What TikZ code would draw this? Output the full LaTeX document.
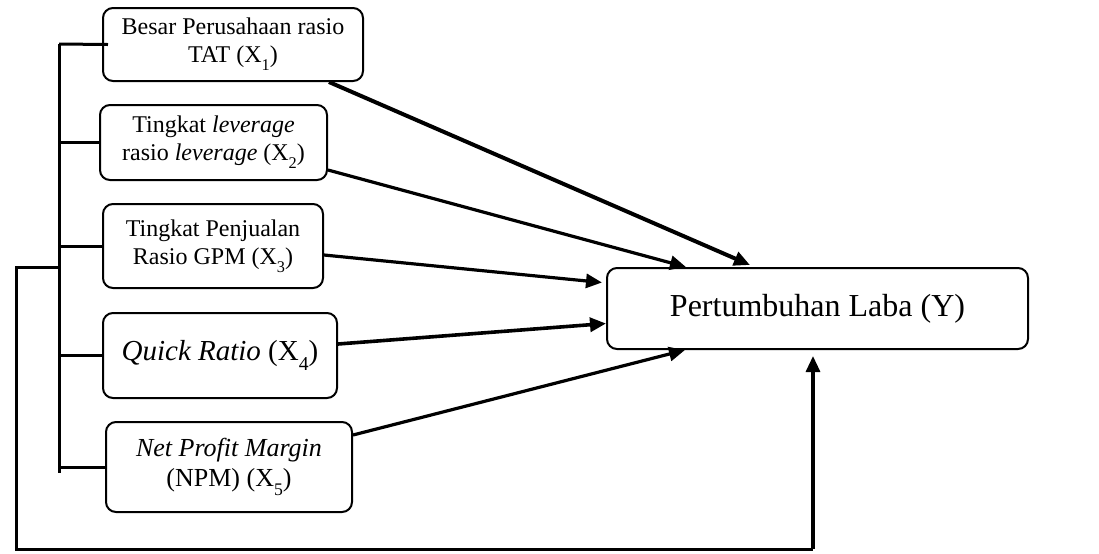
\documentclass[tikz,border=0pt]{standalone}
\usepackage{fontspec}
\setmainfont{Liberation Serif}
\usetikzlibrary{arrows.meta}
\newcommand\lowsub[1]{\raisebox{-0.32em}{\scalebox{0.68}{#1}}}
\begin{document}
\begin{tikzpicture}[x=0.5pt,y=-0.5pt,
  box/.style={draw, line width=1pt, rounded corners=5pt, align=center, inner sep=0pt},
  arr/.style={-{Triangle[length=8pt,width=7pt]}, line width=1.6pt},
  lnk/.style={line width=1.5pt}]
\useasboundingbox (0,0) rectangle (1099,553);
\node[box, minimum width=130pt, minimum height=36.5pt, font=\fontsize{12}{14}\selectfont] (x1) at (233,44.5) {Besar Perusahaan rasio\\TAT (X\lowsub{1})};
\node[box, minimum width=113.5pt, minimum height=37.5pt, font=\fontsize{12}{14}\selectfont] (x2) at (213.5,142.5) {Tingkat \textit{leverage}\\rasio \textit{leverage} (X\lowsub{2})};
\node[box, minimum width=110pt, minimum height=42pt, font=\fontsize{12}{14}\selectfont] (x3) at (213,246) {Tingkat Penjualan\\Rasio GPM (X\lowsub{3})};
\node[box, minimum width=117pt, minimum height=42.5pt, font=\fontsize{14.5}{16}\selectfont] (x4) at (220,355.5) {\textit{Quick Ratio} (X\lowsub{4})};
\node[box, minimum width=123pt, minimum height=45pt, font=\fontsize{13}{15}\selectfont] (x5) at (229,467) {\textit{Net Profit Margin}\\(NPM) (X\lowsub{5})};
\node[box, minimum width=210.5pt, minimum height=40.5pt, font=\fontsize{16}{18}\selectfont] (y) at (817.5,308.5) {Pertumbuhan Laba (Y)};
% arrows to Y
\draw[arr, line width=2pt] ([xshift=-17.5pt]x1.south east) -- ([xshift=72pt,yshift=1pt]y.north west);
\draw[arr] ([yshift=-13.75pt]x2.east) -- ([xshift=40pt]y.north west);
\draw[arr] ([yshift=-4.5pt]x3.east) -- ([xshift=-2pt,yshift=13pt]y.west);
\draw[arr, line width=1.8pt] ([yshift=5.75pt]x4.east) -- ([yshift=-7.5pt]y.west);
\draw[arr] ([yshift=16pt]x5.east) -- ([xshift=39.5pt]y.south west);
% bracket
\coordinate (bt) at (59,44);
\coordinate (bb) at (59,473);
\draw[lnk] (bt) -- (bb);
\draw[lnk] (bt) -- ([xshift=3pt]x1.west);
\draw[lnk] (x2.west -| bt) -- (x2.west);
\draw[lnk] (x3.west -| bt) -- (x3.west);
\draw[lnk] (x4.west -| bt) -- (x4.west);
\draw[lnk] (x5.west -| bt) -- (x5.west);
% outer loop
\coordinate (ot) at (16,267);
\coordinate (ob) at (16,549);
\coordinate (oe) at (813,356);
\draw[lnk] (ot -| bt) -- (ot) -- (ob) -- (ob -| oe);
\draw[arr] (ob -| oe) -- (oe);
\end{tikzpicture}
\end{document}
